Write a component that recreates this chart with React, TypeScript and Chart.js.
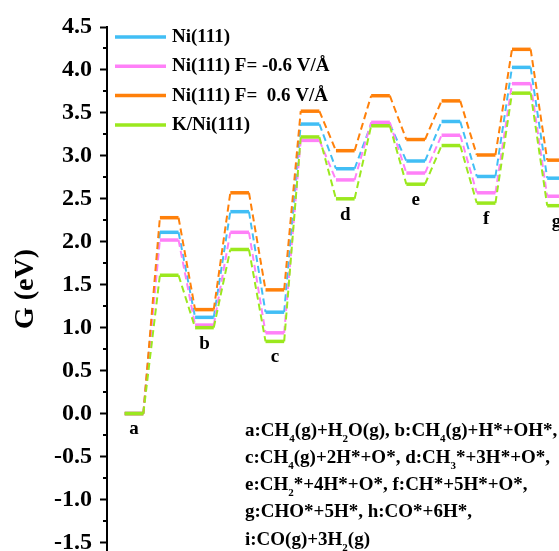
import React, { useEffect, useRef } from 'react';
import { Chart, registerables } from 'chart.js';

Chart.register(...registerables);

// ---- data ----
const states = ['a', 'TS1', 'b', 'TS2', 'c', 'TS3', 'd', 'TS4', 'e', 'TS5', 'f', 'TS6', 'g'];
const stateLabels = ['a', '', 'b', '', 'c', '', 'd', '', 'e', '', 'f', '', 'g'];
const seriesNames = ['Ni(111)', 'Ni(111) F= -0.6 V/Å', 'Ni(111) F=  0.6 V/Å', 'K/Ni(111)'];
const ni111 = [0, 2.11, 1.12, 2.35, 1.18, 3.37, 2.85, 3.37, 2.94, 3.4, 2.76, 4.03, 2.74];
const niNeg = [0, 2.02, 1.03, 2.11, 0.94, 3.18, 2.72, 3.39, 2.8, 3.24, 2.57, 3.84, 2.53];
const niPos = [0, 2.28, 1.21, 2.57, 1.44, 3.52, 3.06, 3.7, 3.19, 3.64, 3.01, 4.24, 2.95];
const kNi = [0, 1.61, 1.0, 1.91, 0.84, 3.22, 2.5, 3.35, 2.67, 3.12, 2.45, 3.73, 2.42];
const yTicks = [-1.5, -1.0, -0.5, 0.0, 0.5, 1.0, 1.5, 2.0, 2.5, 3.0, 3.5, 4.0, 4.5];
const noteLines = [
  'a:CH_4(g)+H_2O(g), b:CH_4(g)+H*+OH*,',
  'c:CH_4(g)+2H*+O*, d:CH_3*+3H*+O*,',
  'e:CH_2*+4H*+O*, f:CH*+5H*+O*,',
  'g:CHO*+5H*, h:CO*+6H*,',
  'i:CO(g)+3H_2(g)',
];

// ---- style ----
const FAM = '"Liberation Serif", "Times New Roman", serif';
const COLORS = ['#41BEF5', '#FF80F8', '#FF800A', '#9BE81E'];
const HALF = 0.265;

const seriesValues = [ni111, niNeg, niPos, kNi];

function makePoints(vals: number[]) {
  const pts: { x: number; y: number }[] = [];
  vals.forEach((v, i) => {
    pts.push({ x: i - HALF, y: v });
    pts.push({ x: i + HALF, y: v });
  });
  return pts;
}

function drawRich(ctx: CanvasRenderingContext2D, text: string, x: number, baseline: number) {
  const parts = text.split(/(_\d)/);
  let cx = x;
  parts.forEach((p) => {
    if (!p) return;
    if (p.startsWith('_')) {
      ctx.font = `bold 11px ${FAM}`;
      ctx.fillText(p.slice(1), cx, baseline + 6);
      cx += ctx.measureText(p.slice(1)).width;
    } else {
      ctx.font = `bold 19px ${FAM}`;
      ctx.fillText(p, cx, baseline);
      cx += ctx.measureText(p).width;
    }
  });
}

const overlayPlugin = {
  id: 'overlay',
  afterDraw(chart: any) {
    const ctx: CanvasRenderingContext2D = chart.ctx;
    const xs = chart.scales.x;
    const ys = chart.scales.y;
    ctx.save();
    // minor ticks
    ctx.strokeStyle = '#000';
    ctx.lineWidth = 2;
    for (let i = 0; i < yTicks.length - 1; i++) {
      const v = (yTicks[i] + yTicks[i + 1]) / 2;
      const py = Math.round(ys.getPixelForValue(v));
      ctx.beginPath();
      ctx.moveTo(ys.right - 4, py);
      ctx.lineTo(ys.right, py);
      ctx.stroke();
    }
    // legend
    ctx.textBaseline = 'middle';
    ctx.textAlign = 'left';
    ctx.fillStyle = '#000';
    seriesNames.forEach((name, i) => {
      const y = 37 + i * 29.3;
      ctx.strokeStyle = COLORS[i];
      ctx.lineWidth = 3.5;
      ctx.beginPath();
      ctx.moveTo(115, y);
      ctx.lineTo(166, y);
      ctx.stroke();
      ctx.font = `bold 19px ${FAM}`;
      ctx.fillText(name, 172, y);
    });
    // state labels
    ctx.textAlign = 'center';
    ctx.font = `bold 19px ${FAM}`;
    stateLabels.forEach((lab, i) => {
      if (!lab) return;
      const minV = Math.min(...seriesValues.map((s) => s[i]));
      const px = xs.getPixelForValue(i);
      const py = ys.getPixelForValue(minV) + 16;
      ctx.fillText(lab, px, py);
    });
    // notes
    ctx.textAlign = 'left';
    ctx.textBaseline = 'alphabetic';
    noteLines.forEach((line, i) => {
      drawRich(ctx, line, 245, 429 + i * 27.3 + 6.5);
    });
    ctx.restore();
  },
};

export default function App() {
  const ref = useRef<HTMLCanvasElement>(null);
  useEffect(() => {
    if (!ref.current) return;
    const order = [3, 2, 1, 0];
    const chart = new Chart(ref.current, {
      type: 'line',
      data: {
        datasets: order.map((k) => ({
          label: seriesNames[k],
          data: makePoints(seriesValues[k]),
          borderColor: COLORS[k],
          backgroundColor: COLORS[k],
          pointRadius: 0,
          tension: 0,
          fill: false,
          borderCapStyle: 'butt',
          borderWidth: 3.5,
          segment: {
            borderDash: (c: any) => (c.p0DataIndex % 2 === 0 ? [] : [7, 4]),
            borderWidth: (c: any) => (c.p0DataIndex % 2 === 0 ? 3.5 : 2),
          },
        })) as any,
      },
      options: {
        animation: false,
        responsive: false,
        maintainAspectRatio: false,
        layout: { padding: { top: 27, left: 0, right: 0, bottom: 0 } },
        plugins: { legend: { display: false }, tooltip: { enabled: false } },
        scales: {
          x: { type: 'linear', min: -0.767, max: 12.07, display: false },
          y: {
            type: 'linear',
            min: -1.6,
            max: 4.5,
            afterBuildTicks: (s: any) => {
              s.ticks = yTicks.map((v) => ({ value: v }));
            },
            afterFit: (s: any) => {
              s.width = 107;
              s.paddingTop = 0;
              s.paddingBottom = 0;
            },
            ticks: {
              callback: (v: any) => Number(v).toFixed(1),
              font: { family: FAM, size: 24, weight: 'bold' },
              color: '#000',
              padding: 8,
            },
            grid: {
              drawOnChartArea: false,
              drawTicks: true,
              tickLength: 7,
              tickColor: '#000',
              tickWidth: 2,
            },
            border: { display: true, color: '#000', width: 2 },
            title: {
              display: true,
              text: 'G (eV)',
              font: { family: FAM, size: 28, weight: 'bold' },
              color: '#000',
              padding: { top: 9, bottom: 0 },
            },
          } as any,
        },
      },
      plugins: [overlayPlugin],
    });
    return () => chart.destroy();
  }, []);
  return (
    <div style={{ position: 'absolute', left: 0, top: 0, width: 559, height: 551, background: '#fff' }}>
      <canvas ref={ref} width={559} height={551} style={{ display: 'block' }} />
    </div>
  );
}
